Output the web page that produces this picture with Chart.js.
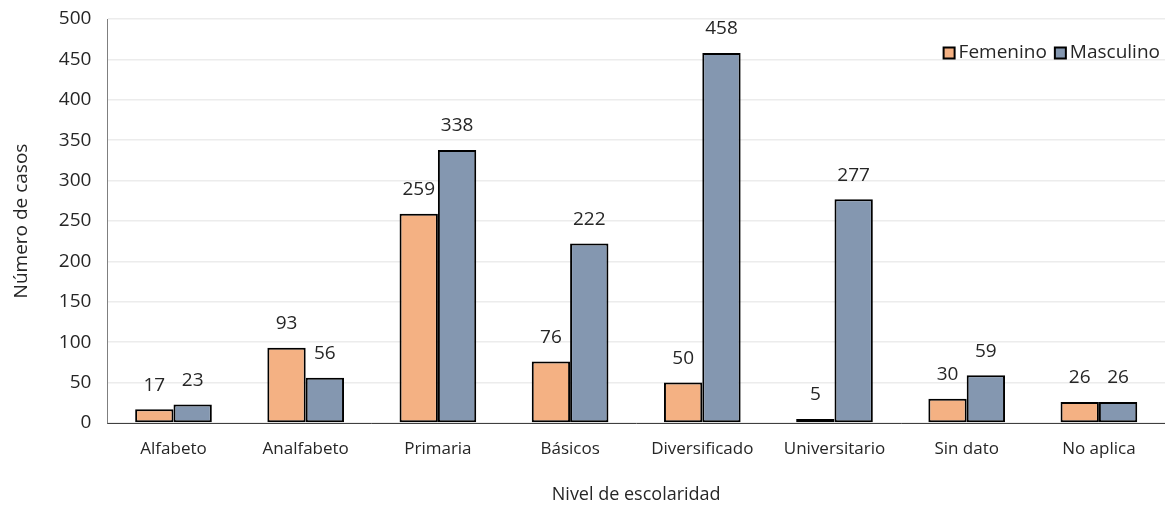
<!DOCTYPE html>
<html>
<head>
<meta charset="utf-8">
<script src="https://cdn.jsdelivr.net/npm/chart.js@4"></script>
<style>
  html, body { margin: 0; padding: 0; background: #ffffff; }
  #wrap { width: 1165px; height: 506px; position: relative; }
</style>
</head>
<body>
<div id="wrap"><canvas id="c" width="1165" height="506"></canvas></div>
<script>
const categories = ['Alfabeto', 'Analfabeto', 'Primaria', 'Básicos', 'Diversificado', 'Universitario', 'Sin dato', 'No aplica'];
const femenino = [17, 93, 259, 76, 50, 5, 30, 26];
const masculino = [23, 56, 338, 222, 458, 277, 59, 26];
const yTicks = [0, 50, 100, 150, 200, 250, 300, 350, 400, 450, 500];

const FONT = '"Open Sans", Lato, sans-serif';
const TEXT = '#262626';

// Value labels above each bar
const valueLabels = {
  id: 'valueLabels',
  afterDatasetsDraw(chart) {
    const ctx = chart.ctx;
    ctx.save();
    ctx.font = '19px ' + FONT;
    ctx.fillStyle = TEXT;
    ctx.textAlign = 'center';
    ctx.textBaseline = 'middle';
    chart.data.datasets.forEach((ds, i) => {
      chart.getDatasetMeta(i).data.forEach((bar, j) => {
        ctx.fillText(String(ds.data[j]), bar.x, bar.y - 24);
      });
    });
    ctx.restore();
  }
};

// Legend drawn inside the plot area, top right
const insideLegend = {
  id: 'insideLegend',
  afterDraw(chart) {
    const ctx = chart.ctx;
    const area = chart.chartArea;
    ctx.save();
    ctx.font = '19px ' + FONT;
    ctx.textBaseline = 'middle';
    ctx.textAlign = 'left';
    const box = 11, gapBox = 4, gapItem = 8;
    const y = area.top + 34;
    const items = chart.data.datasets.map(ds => ({ text: ds.label, color: ds.backgroundColor, w: ctx.measureText(ds.label).width }));
    let total = items.reduce((s, it) => s + box + gapBox + it.w, 0) + gapItem * (items.length - 1);
    let x = area.right - 5 - total;
    items.forEach(it => {
      ctx.fillStyle = it.color;
      ctx.fillRect(x, y - box / 2, box, box);
      ctx.lineWidth = 2;
      ctx.strokeStyle = '#000000';
      ctx.strokeRect(x, y - box / 2, box, box);
      x += box + gapBox;
      ctx.fillStyle = TEXT;
      ctx.fillText(it.text, x, y);
      x += it.w + gapItem;
    });
    ctx.restore();
  }
};

new Chart(document.getElementById('c'), {
  type: 'bar',
  data: {
    labels: categories,
    datasets: [
      { label: 'Femenino', data: femenino, backgroundColor: '#F4B183', borderColor: '#000000', borderWidth: 2, borderSkipped: false },
      { label: 'Masculino', data: masculino, backgroundColor: '#8497B0', borderColor: '#000000', borderWidth: 2, borderSkipped: false }
    ]
  },
  options: {
    responsive: false,
    animation: false,
    layout: { padding: { top: 19, right: 0, left: 10, bottom: 0 } },
    datasets: { bar: { categoryPercentage: 0.58, barPercentage: 1.0 } },
    scales: {
      x: {
        grid: { display: false, drawTicks: false },
        border: { display: true, color: '#404040', width: 1 },
        ticks: { color: TEXT, font: { family: FONT, size: 17 }, padding: 16 },
        title: { display: true, text: 'Nivel de escolaridad', color: TEXT, font: { family: FONT, size: 18 }, padding: { top: 9, bottom: 0 } }
      },
      y: {
        min: 0, max: 500,
        afterBuildTicks(axis) { axis.ticks = yTicks.map(v => ({ value: v })); },
        afterFit(axis) { axis.paddingTop = 0; },
        grid: { color: '#ececec', lineWidth: 1.5, drawTicks: false },
        border: { display: true, color: '#7f7f7f', width: 1 },
        ticks: { color: TEXT, font: { family: FONT, size: 19 }, padding: 16 },
        title: { display: true, text: 'Número de casos', color: TEXT, font: { family: FONT, size: 19 }, padding: { top: 0, bottom: 10 } }
      }
    },
    plugins: {
      legend: { display: false },
      tooltip: { enabled: false }
    }
  },
  plugins: [valueLabels, insideLegend]
});
</script>
</body>
</html>
